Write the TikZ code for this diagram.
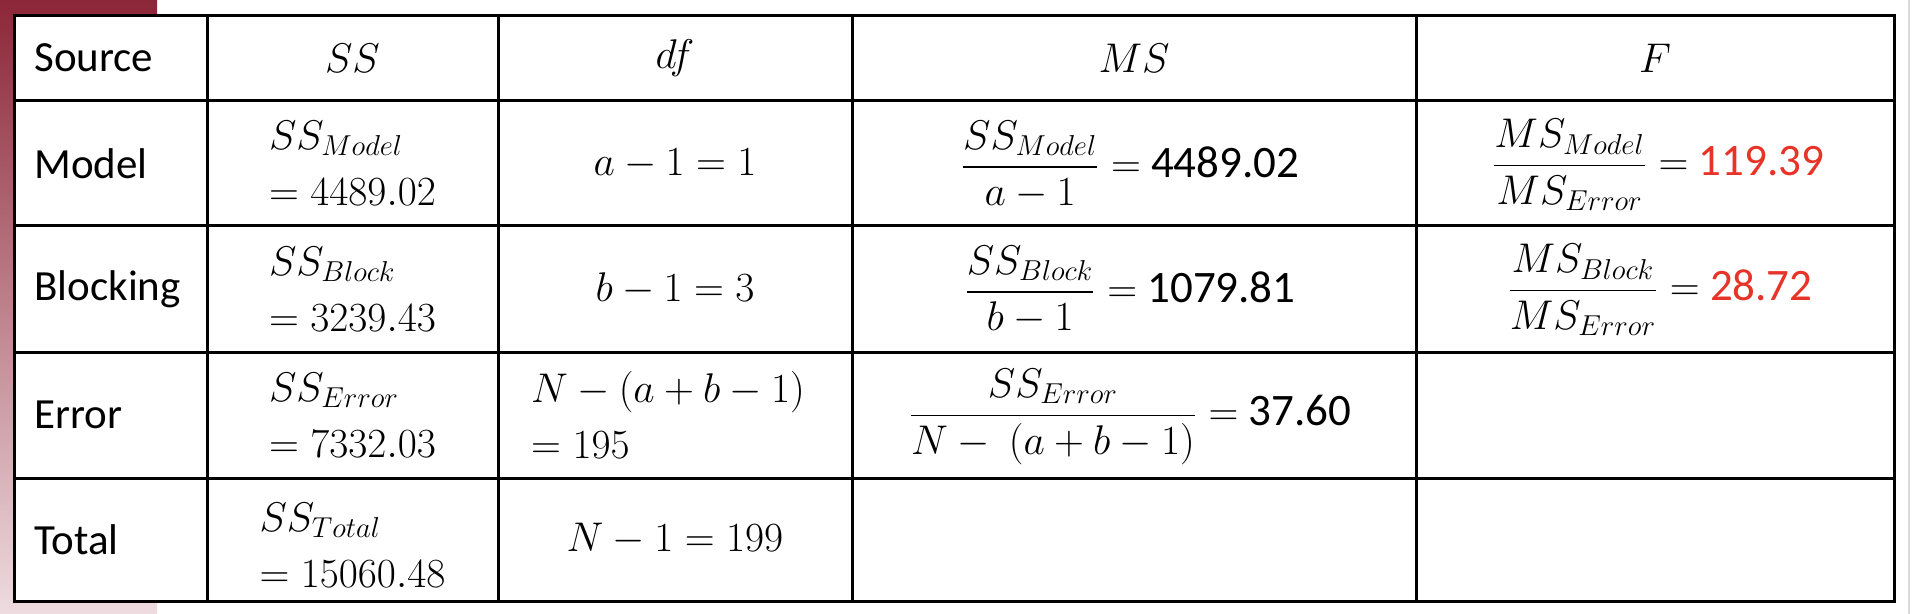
\documentclass[tikz,border=0pt]{standalone}
\usepackage[no-math]{fontspec}
\setmainfont{Carlito}
\usepackage{amsmath}
\definecolor{barTop}{RGB}{140,38,56}
\definecolor{barBot}{RGB}{238,220,224}
\definecolor{fred}{RGB}{232,52,40}
\begin{document}
\begin{tikzpicture}[x=0.5pt,y=-0.5pt,
  lbl/.style={inner sep=0pt, anchor=west, font=\fontsize{21.5}{26}\selectfont},
  cell/.style={inner sep=0pt, align=left, font=\fontsize{22.5}{28}\selectfont},
  grid/.style={line width=1.5pt, black}]
\useasboundingbox (0,0) rectangle (1914,614);
\shade[top color=barTop, bottom color=barBot] (0,0) rectangle (157,614);
\draw[black!15, line width=1pt] (1909,0) -- (1909,614);
\fill[white] (14.6,15.5) rectangle (1894,601);
% grid
\draw[grid] (14.6,15.5) rectangle (1894,601);
\foreach \x in {207,498,852,1416} \draw[grid] (\x,15.5) -- (\x,601);
\foreach \y in {101,226,352,478} \draw[grid] (14.6,\y) -- (1894,\y);
% header
\node[lbl] (hsrc) at (34,58) {Source};
\node[cell] (hss) at (352.5,58) {$SS$};
\node[cell] (hdf) at (675,58) {$df$};
\node[cell] (hms) at (1134,58) {$MS$};
\node[cell] (hf) at (1655,58) {$F$};
% row labels
\node[lbl] (lmod) at (34,163.5) {Model};
\node[lbl] (lblk) at (34,289) {Blocking};
\node[lbl] (lerr) at (34,415) {Error};
\node[lbl] (ltot) at (34,539.5) {Total};
% SS column
\node[cell] (ssm) at (352.5,163.5) {$SS_{Model}$\\$=4489.02$};
\node[cell] (ssb) at (352.5,289) {$SS_{Block}$\\$=3239.43$};
\node[cell] (sse) at (352.5,415) {$SS_{Error}$\\$=7332.03$};
\node[cell] (sst) at (352.5,545) {$SS_{Total}$\\$=15060.48$};
% df column
\node[cell] (dfm) at (675,163.5) {$a-1=1$};
\node[cell] (dfb) at (675,289) {$b-1=3$};
\node[cell] (dfe) at (668,415) {$N-(a+b-1)$\\$=195$};
\node[cell] (dft) at (675,539.5) {$N-1=199$};
% MS column
\node[cell] (msm) at (1130,165) {$\dfrac{SS_{Model}}{a-1}=$ 4489.02};
\node[cell] (msb) at (1130,290) {$\dfrac{SS_{Block}}{b-1}=$ 1079.81};
\node[cell] (mse) at (1130,417) {$\dfrac{SS_{Error}}{N-\ (a+b-1)}=$ 37.60};
% F column
\node[cell] (fm) at (1658,165) {$\dfrac{MS_{Model}}{MS_{Error}}=$ \textcolor{fred}{119.39}};
\node[cell] (fb) at (1660,290) {$\dfrac{MS_{Block}}{MS_{Error}}=$ \textcolor{fred}{28.72}};
\end{tikzpicture}
\end{document}
